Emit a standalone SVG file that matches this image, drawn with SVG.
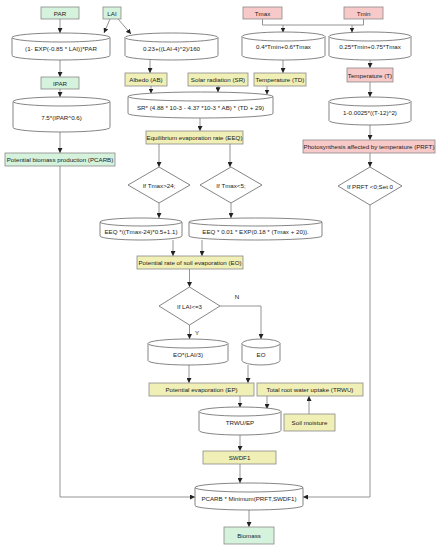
<svg xmlns="http://www.w3.org/2000/svg" width="440" height="550" viewBox="0 0 440 550">
<style>
text{font-family:"Liberation Sans",Arial,sans-serif;font-size:6.2px;fill:#222;text-anchor:middle;dominant-baseline:central}
.g{fill:#d5f2dd;stroke:#8a8a8a;stroke-width:0.8}
.y{fill:#f0efb6;stroke:#8a8a8a;stroke-width:0.8}
.p{fill:#f8c9c9;stroke:#8a8a8a;stroke-width:0.8}
.c{fill:#fff;stroke:#666;stroke-width:0.8}
.d{fill:#fff;stroke:#666;stroke-width:0.8}
.l{fill:none;stroke:#888;stroke-width:0.9}
.a{fill:none;stroke:#888;stroke-width:0.9;marker-end:url(#ah)}
</style>
<defs>
<marker id="ah" viewBox="0 0 6 6" refX="6" refY="3" markerWidth="5" markerHeight="5" markerUnits="userSpaceOnUse" orient="auto">
<path d="M0,0 L6,3 L0,6 Z" fill="#222"/>
</marker>
</defs>
<rect width="440" height="550" fill="#fff"/>

<g id="connectors">
<path class="a" d="M60,19 V33"/>
<path class="a" d="M110,19 L104,33"/>
<path class="a" d="M118,19 L131,34"/>
<path class="a" d="M60,60 V77"/>
<path class="a" d="M60,89 V97"/>
<path class="a" d="M60,132 V153"/>
<path class="a" d="M150,60 V73"/>
<path class="a" d="M151,86 V93.5"/>
<path class="a" d="M218,86 V92.3"/>
<path class="a" d="M267,86 V94.5"/>
<path class="a" d="M200,118 V131"/>
<path class="a" d="M283,60 V73"/>
<path class="l" d="M262.5,19 V25 H363.5 V19"/>
<path class="a" d="M283,25 V32.5"/>
<path class="a" d="M352,25 V32.5"/>
<path class="a" d="M370,60 V68"/>
<path class="a" d="M370,82 V97"/>
<path class="a" d="M370,125 V140"/>
<path class="a" d="M370,153 V167"/>
<path class="a" d="M370,205 V497 H303"/>
<path class="a" d="M60,166 V497 H195"/>
<path class="a" d="M159,144 V167"/>
<path class="a" d="M230,144 V167"/>
<path class="a" d="M159,203 V218"/>
<path class="a" d="M231,203 V218"/>
<path class="a" d="M173,240 V256"/>
<path class="a" d="M202,240 V256"/>
<path class="a" d="M189.5,269 V287"/>
<path class="a" d="M189.5,325 V339"/>
<path class="a" d="M220,306 H261 V339"/>
<path class="a" d="M189,365 V383"/>
<path class="a" d="M248,365 V383"/>
<path class="a" d="M240,396 V407.5"/>
<path class="a" d="M267,396 V409"/>
<path class="a" d="M309,414 V396"/>
<path class="a" d="M240,435 V451"/>
<path class="a" d="M240,464 V483"/>
<path class="a" d="M249,510 V527"/>
<text x="237" y="296">N</text>
<text x="197" y="332">Y</text>
</g>

<g id="PAR"><rect class="g" x="41" y="7" width="38" height="12"/><text x="60" y="13">PAR</text></g>
<g id="LAI"><rect class="g" x="103" y="7" width="18" height="12"/><text x="112" y="13">LAI</text></g>
<g id="IPAR"><rect class="g" x="41" y="77" width="38" height="12"/><text x="60" y="83">IPAR</text></g>
<g id="PCARB"><rect class="g" x="5" y="153" width="110" height="13"/><text x="60" y="159.5">Potential biomass production (PCARB)</text></g>
<g id="Biomass"><rect class="g" x="224" y="527" width="50" height="17"/><text x="249" y="535.5">Biomass</text></g>

<g id="Albedo"><rect class="y" x="125" y="73" width="42" height="13"/><text x="146" y="79.5">Albedo (AB)</text></g>
<g id="SR"><rect class="y" x="188" y="73" width="60" height="13"/><text x="218" y="79.5">Solar radiation (SR)</text></g>
<g id="TD"><rect class="y" x="254" y="73" width="52" height="13"/><text x="280" y="79.5">Temperature (TD)</text></g>
<g id="EEQ"><rect class="y" x="146" y="131" width="97" height="13"/><text x="194.5" y="137.5">Equilibrium evaporation rate (EEQ)</text></g>
<g id="EO"><rect class="y" x="137" y="256" width="106" height="13"/><text x="190" y="262.5">Potential rate of soil evaporation (EO)</text></g>
<g id="EP"><rect class="y" x="149" y="383" width="105" height="13"/><text x="201.5" y="389.5">Potential evaporation (EP)</text></g>
<g id="TRWU"><rect class="y" x="257" y="383" width="106" height="13"/><text x="310" y="389.5">Total root water uptake (TRWU)</text></g>
<g id="SoilMoisture"><rect class="y" x="284" y="414" width="51" height="17"/><text x="309.5" y="422.5">Soil moisture</text></g>
<g id="SWDF1"><rect class="y" x="203" y="451" width="73" height="13"/><text x="239.5" y="457.5">SWDF1</text></g>

<g id="Tmax"><rect class="p" x="243" y="7" width="39" height="12"/><text x="262.5" y="13">Tmax</text></g>
<g id="Tmin"><rect class="p" x="344" y="7" width="39" height="12"/><text x="363.5" y="13">Tmin</text></g>
<g id="TempT"><rect class="p" x="347" y="68" width="46" height="14"/><text x="370" y="75">Temperature (T)</text></g>
<g id="PRFT"><rect class="p" x="303" y="140" width="132" height="13"/><text x="369" y="146.5">Photosynthesis affected by temperature (PRFT)</text></g>

<g id="cylIPAR"><path class="c" d="M12,37.5 V55.5 A49,4.5 0 0 0 110,55.5 V37.5"/><ellipse class="c" cx="61" cy="37.5" rx="49" ry="4.5"/><text x="61" y="48">(1- EXP(-0.85 * LAI))*PAR</text></g>
<g id="cylAlbedo"><path class="c" d="M125,37.5 V55.5 A46.5,4.5 0 0 0 218,55.5 V37.5"/><ellipse class="c" cx="171.5" cy="37.5" rx="46.5" ry="4.5"/><text x="171.5" y="48">0.23+((LAI-4)^2)/160</text></g>
<g id="cylPCARB"><path class="c" d="M13,101.5 V127.5 A48.5,4.5 0 0 0 110,127.5 V101.5"/><ellipse class="c" cx="61.5" cy="101.5" rx="48.5" ry="4.5"/><text x="61.5" y="117">7.5*(IPAR^0.6)</text></g>
<g id="cylSR"><path class="c" d="M128,96.5 V113.5 A72.5,4.5 0 0 0 273,113.5 V96.5"/><ellipse class="c" cx="200.5" cy="96.5" rx="72.5" ry="4.5"/><text x="200.5" y="107">SR* (4.88 * 10-3 - 4.37 *10-3 * AB) * (TD + 29)</text></g>
<g id="cylTD"><path class="c" d="M242,36.5 V55.5 A41.5,4.5 0 0 0 325,55.5 V36.5"/><ellipse class="c" cx="283.5" cy="36.5" rx="41.5" ry="4.5"/><text x="283.5" y="46">0.4*Tmin+0.6*Tmax</text></g>
<g id="cylT"><path class="c" d="M329,36.5 V55.5 A41,4.5 0 0 0 411,55.5 V36.5"/><ellipse class="c" cx="370" cy="36.5" rx="41" ry="4.5"/><text x="370" y="46">0.25*Tmin+0.75*Tmax</text></g>
<g id="cylPRFT"><path class="c" d="M329,101.5 V120.5 A41,4.5 0 0 0 411,120.5 V101.5"/><ellipse class="c" cx="370" cy="101.5" rx="41" ry="4.5"/><text x="370" y="112">1-0.0025*((T-12)^2)</text></g>
<g id="cylEEQ1"><path class="c" d="M100,222 V236 A41,4 0 0 0 182,236 V222"/><ellipse class="c" cx="141" cy="222" rx="41" ry="4"/><text x="141" y="231">EEQ *((Tmax-24)*0.5+1.1)</text></g>
<g id="cylEEQ2"><path class="c" d="M189,222 V236 A66.5,4 0 0 0 322,236 V222"/><ellipse class="c" cx="255.5" cy="222" rx="66.5" ry="4"/><text x="255.5" y="231">EEQ * 0.01 * EXP(0.18 * (Tmax + 20)).</text></g>
<g id="cylEOLAI"><path class="c" d="M148,343.5 V360.5 A40,4.5 0 0 0 228,360.5 V343.5"/><ellipse class="c" cx="188" cy="343.5" rx="40" ry="4.5"/><text x="188" y="354">EO*(LAI/3)</text></g>
<g id="cylEO"><path class="c" d="M242,343.5 V360.5 A19,4.5 0 0 0 280,360.5 V343.5"/><ellipse class="c" cx="261" cy="343.5" rx="19" ry="4.5"/><text x="261" y="354">EO</text></g>
<g id="cylTRWUEP"><path class="c" d="M199,411.5 V430.5 A41,4.5 0 0 0 281,430.5 V411.5"/><ellipse class="c" cx="240" cy="411.5" rx="41" ry="4.5"/><text x="240" y="422.5">TRWU/EP</text></g>
<g id="cylFinal"><path class="c" d="M195,487.5 V505.5 A54,4.5 0 0 0 303,505.5 V487.5"/><ellipse class="c" cx="249" cy="487.5" rx="54" ry="4.5"/><text x="249" y="498">PCARB * Minimum(PRFT,SWDF1)</text></g>

<g id="dTmax24"><path class="d" d="M159,167 L190,185 L159,203 L128,185 Z"/><text x="159" y="185">If Tmax&gt;24;</text></g>
<g id="dTmax5"><path class="d" d="M231,167 L262,185 L231,203 L200,185 Z"/><text x="231" y="185">If Tmax&lt;5;</text></g>
<g id="dLAI"><path class="d" d="M189.5,287 L220,306 L189.5,325 L159,306 Z"/><text x="189.5" y="306">If LAI&lt;=3</text></g>
<g id="dPRFT"><path class="d" d="M370,167 L402,186 L370,205 L338,186 Z"/><text x="370" y="186">If PRFT &lt;0;Set 0</text></g>
</svg>
